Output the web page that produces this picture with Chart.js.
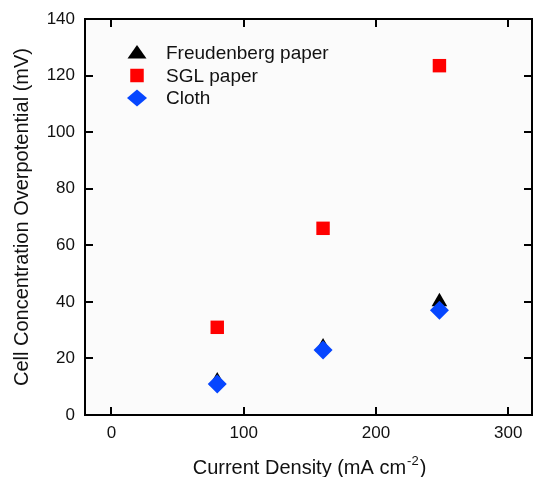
<!DOCTYPE html>
<html>
<head>
<meta charset="utf-8">
<script src="https://cdn.jsdelivr.net/npm/chart.js@4/dist/chart.umd.min.js"></script>
<style>
  html, body { margin: 0; padding: 0; background: #fff; overflow: hidden; }
  canvas { display: block; }
</style>
</head>
<body>
<canvas id="chart" width="535" height="477"></canvas>
<script>
// values
const currentDensity = [80, 160, 248];
const freudenberg = [12, 24, 40];
const sglPaper = [31, 66, 123.5];
const cloth = [11, 23, 37];

const xTicks = [0, 100, 200, 300];
const yTicks = [0, 20, 40, 60, 80, 100, 120, 140];

const seriesLabels = ['Freudenberg paper', 'SGL paper', 'Cloth'];
const seriesColors = ['#000000', '#ff0000', '#0646ff'];
const seriesShapes = ['triangle', 'rect', 'rectRot'];

const FONT = 'Arial, "Liberation Sans", sans-serif';

function toPoints(ys) {
    return currentDensity.map((x, i) => ({ x: x, y: ys[i] }));
}

// frame with inward ticks on all four sides, legend and x title
const framePlugin = {
    id: 'frame',
    beforeDraw(chart) {
        const { ctx, chartArea: a } = chart;
        ctx.save();
        ctx.fillStyle = '#fbfbfb';
        ctx.fillRect(a.left, a.top, a.right - a.left, a.bottom - a.top);
        ctx.restore();
    },
    afterDraw(chart) {
        const { ctx, chartArea: a, scales } = chart;
        const len = 8;
        ctx.save();
        ctx.strokeStyle = '#000';
        ctx.lineWidth = 2;
        ctx.strokeRect(a.left, a.top, a.right - a.left, a.bottom - a.top);

        ctx.beginPath();
        xTicks.forEach(v => {
            const px = Math.round(scales.x.getPixelForValue(v));
            ctx.moveTo(px, a.bottom); ctx.lineTo(px, a.bottom - len);
            ctx.moveTo(px, a.top); ctx.lineTo(px, a.top + len);
        });
        yTicks.forEach(v => {
            const py = Math.round(scales.y.getPixelForValue(v));
            ctx.moveTo(a.left, py); ctx.lineTo(a.left + len, py);
            ctx.moveTo(a.right, py); ctx.lineTo(a.right - len, py);
        });
        ctx.stroke();

        // legend
        const lx = 137, ly0 = 53, gap = 22.5;
        seriesLabels.forEach((lab, i) => {
            const y = ly0 + i * gap;
            ctx.fillStyle = seriesColors[i];
            ctx.beginPath();
            if (seriesShapes[i] === 'triangle') {
                ctx.moveTo(lx, y - 8); ctx.lineTo(lx + 9.5, y + 5.5); ctx.lineTo(lx - 9.5, y + 5.5);
            } else if (seriesShapes[i] === 'rect') {
                ctx.rect(lx - 6.75, y - 6.75, 13.5, 13.5);
            } else {
                ctx.moveTo(lx, y - 8.5); ctx.lineTo(lx + 10, y); ctx.lineTo(lx, y + 8.5); ctx.lineTo(lx - 10, y);
            }
            ctx.closePath();
            ctx.fill();
            ctx.fillStyle = '#111';
            ctx.font = '19px ' + FONT;
            ctx.textBaseline = 'middle';
            ctx.textAlign = 'left';
            ctx.fillText(lab, 166, y + 1);
        });

        // x axis title with superscript
        const main = 'Current Density (mA cm';
        const sup = '-2';
        const tail = ')';
        ctx.fillStyle = '#111';
        ctx.textBaseline = 'alphabetic';
        ctx.font = '20px ' + FONT;
        const w1 = ctx.measureText(main).width;
        const w3 = ctx.measureText(tail).width;
        ctx.font = '13px ' + FONT;
        const w2 = ctx.measureText(sup).width;
        const cx = (a.left + a.right) / 2;
        let x0 = cx - (w1 + w2 + w3) / 2;
        const base = 474;
        ctx.font = '20px ' + FONT;
        ctx.fillText(main, x0, base);
        ctx.font = '13px ' + FONT;
        ctx.fillText(sup, x0 + w1 + 1, base - 9);
        ctx.font = '20px ' + FONT;
        ctx.fillText(tail, x0 + w1 + w2 + 2, base);
        ctx.restore();
    }
};

const datasets = [
    { label: seriesLabels[0], data: toPoints(freudenberg), order: 2 },
    { label: seriesLabels[1], data: toPoints(sglPaper), order: 1 },
    { label: seriesLabels[2], data: toPoints(cloth), order: 0 }
].map((d, i) => Object.assign(d, {
    pointStyle: seriesShapes[i],
    backgroundColor: seriesColors[i],
    borderColor: seriesColors[i],
    borderWidth: 0,
    pointRadius: seriesShapes[i] === 'triangle' ? 9 : 9.5,
    pointHoverRadius: seriesShapes[i] === 'triangle' ? 9 : 9.5,
    showLine: false
}));

new Chart(document.getElementById('chart'), {
    type: 'scatter',
    data: { datasets: datasets },
    options: {
        responsive: false,
        animation: false,
        layout: { autoPadding: false, padding: { left: 0, top: 19, right: 3, bottom: 0 } },
        plugins: {
            legend: { display: false },
            tooltip: { enabled: false }
        },
        scales: {
            x: {
                type: 'linear',
                min: -20,
                max: 318,
                grid: { display: false, drawTicks: false },
                border: { display: false },
                afterBuildTicks: s => { s.ticks = xTicks.map(v => ({ value: v })); },
                afterFit: s => { s.height = 62; s.paddingLeft = 0; s.paddingRight = 0; },
                ticks: {
                    color: '#111',
                    padding: 8,
                    maxRotation: 0,
                    font: { family: FONT, size: 17 }
                },
                title: { display: false }
            },
            y: {
                type: 'linear',
                min: 0,
                max: 140,
                grid: { display: false, drawTicks: false },
                border: { display: false },
                afterBuildTicks: s => { s.ticks = yTicks.map(v => ({ value: v })); },
                afterFit: s => { s.width = 85; s.paddingTop = 0; s.paddingBottom = 0; },
                ticks: {
                    color: '#111',
                    padding: 10,
                    font: { family: FONT, size: 17 }
                },
                title: {
                    display: true,
                    text: 'Cell Concentration Overpotential (mV)',
                    color: '#111',
                    padding: { top: 10, bottom: 0 },
                    font: { family: FONT, size: 20 }
                }
            }
        }
    },
    plugins: [framePlugin]
});
</script>
</body>
</html>
